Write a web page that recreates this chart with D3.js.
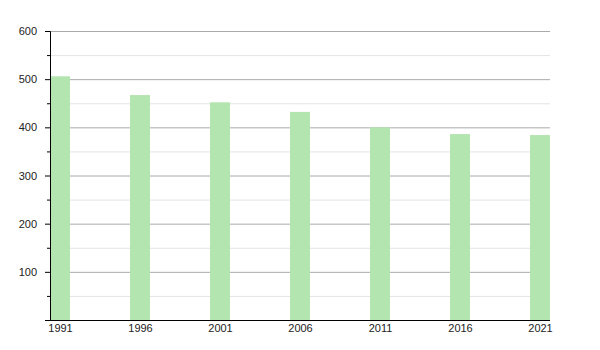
<!DOCTYPE html>
<html>
<head>
<meta charset="utf-8">
<script src="https://cdn.jsdelivr.net/npm/d3@7"></script>
<style>
  body { margin: 0; background: #fff; }
  text { font-family: "Liberation Sans", Arial, sans-serif; font-size: 11px; fill: #222; }
</style>
</head>
<body>
<svg id="chart" width="600" height="350"></svg>
<script>
var years = [1991, 1996, 2001, 2006, 2011, 2016, 2021];
var values = [506, 467, 452, 432, 400, 386, 384];
var yTicks = [100, 200, 300, 400, 500, 600];
var yMinor = [50, 150, 250, 350, 450, 550];

var svg = d3.select("#chart"),
  margin = { top: 31, right: 50, bottom: 30, left: 50 };
var width = 600 - margin.left - margin.right,
  height = 350 - margin.top - margin.bottom;

var g = svg.append("g")
  .attr("transform", "translate(" + margin.left + "," + margin.top + ")");

var x = d3.scaleLinear().domain([1991, 2021]).range([10, width - 10]);
var y = d3.scaleLinear().domain([0, 600]).range([height, 0]);

// minor grid
g.selectAll(".minor").data(yMinor).enter().append("line")
  .attr("x1", 0).attr("x2", width)
  .attr("y1", d => y(d) + 0.5).attr("y2", d => y(d) + 0.5)
  .attr("stroke", "#e4e4e4");

// major grid
g.selectAll(".major").data(yTicks).enter().append("line")
  .attr("x1", 0).attr("x2", width)
  .attr("y1", d => y(d) + 0.5).attr("y2", d => y(d) + 0.5)
  .attr("stroke", "#aaa");

// bars
g.selectAll(".bar").data(values).enter().append("rect")
  .attr("x", (d, i) => x(years[i]) - 10)
  .attr("y", d => y(d))
  .attr("width", 20)
  .attr("height", d => height - y(d))
  .attr("fill", "#b3e5b0");

// y axis
var yAxis = g.append("g")
  .call(d3.axisLeft(y).tickValues(yTicks).tickSize(5).tickFormat(d3.format("d")));
yAxis.select(".domain").attr("stroke", "#000");
yAxis.selectAll(".tick line").attr("stroke", "#000");
yAxis.selectAll("text").attr("x", -13).style("font-size", "11px").attr("fill", "#222");

g.append("g")
  .call(d3.axisLeft(y).tickValues(yMinor).tickSize(3).tickFormat(""))
  .call(s => s.select(".domain").remove())
  .selectAll(".tick line").attr("stroke", "#000");

// x axis
var xAxis = g.append("g")
  .attr("transform", "translate(0," + height + ")")
  .call(d3.axisBottom(x).tickValues(years).tickSize(0).tickPadding(4).tickFormat(d3.format("d")));
xAxis.select(".domain").attr("stroke", "#000").attr("d", "M0,0.5H" + width);
xAxis.selectAll("text").style("font-size", "11px").attr("fill", "#222");
</script>
</body>
</html>
